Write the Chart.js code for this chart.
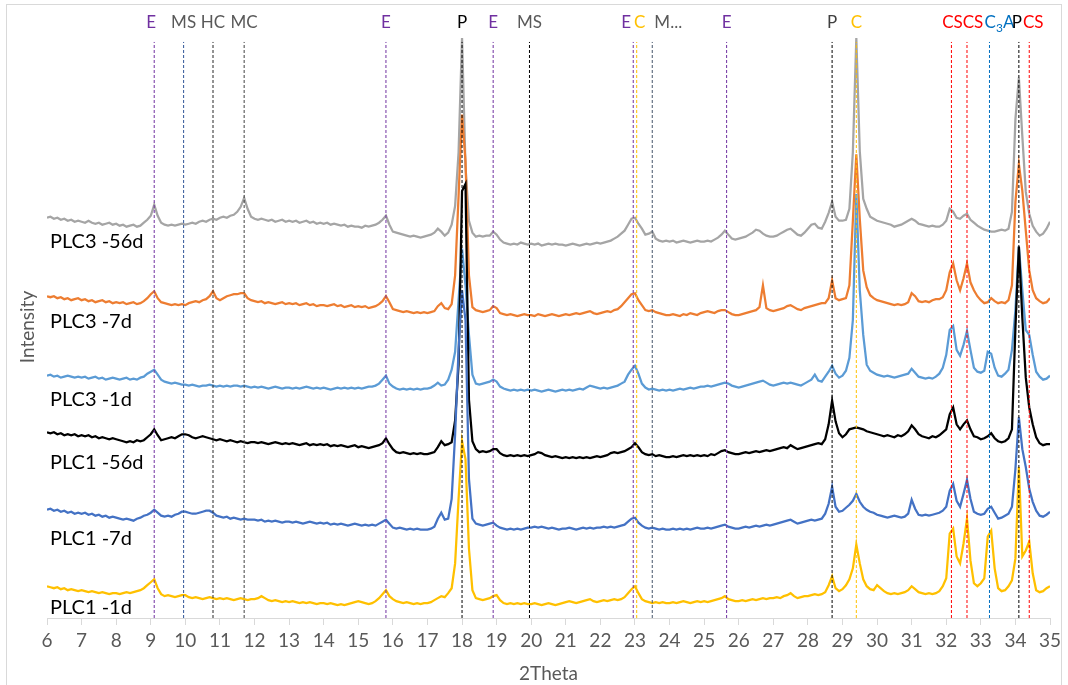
<!DOCTYPE html>
<html>
<head>
<meta charset="utf-8">
<title>XRD – PLC1 / PLC3</title>
<script src="https://cdn.jsdelivr.net/npm/chart.js@4.4.1/dist/chart.umd.min.js"></script>
<style>
  html, body { margin: 0; padding: 0; background: #fff; }
  #wrap { width: 1068px; height: 685px; }
</style>
</head>
<body>
<div id="wrap"><canvas id="xrd" width="1068" height="685"></canvas></div>
<script>
// 2Theta sampling grid (deg), one row per degree
const theta = [
  6.0,6.1,6.2,6.3,6.4,6.5,6.6,6.7,6.8,6.9,
  7.0,7.1,7.2,7.3,7.4,7.5,7.6,7.7,7.8,7.9,
  8.0,8.1,8.2,8.3,8.4,8.5,8.6,8.7,8.8,8.9,
  9.0,9.1,9.2,9.3,9.4,9.5,9.6,9.7,9.8,9.9,
  10.0,10.1,10.2,10.3,10.4,10.5,10.6,10.7,10.8,10.9,
  11.0,11.1,11.2,11.3,11.4,11.5,11.6,11.7,11.8,11.9,
  12.0,12.1,12.2,12.3,12.4,12.5,12.6,12.7,12.8,12.9,
  13.0,13.1,13.2,13.3,13.4,13.5,13.6,13.7,13.8,13.9,
  14.0,14.1,14.2,14.3,14.4,14.5,14.6,14.7,14.8,14.9,
  15.0,15.1,15.2,15.3,15.4,15.5,15.6,15.7,15.8,15.9,
  16.0,16.1,16.2,16.3,16.4,16.5,16.6,16.7,16.8,16.9,
  17.0,17.1,17.2,17.3,17.4,17.5,17.6,17.7,17.8,17.9,
  18.0,18.1,18.2,18.3,18.4,18.5,18.6,18.7,18.8,18.9,
  19.0,19.1,19.2,19.3,19.4,19.5,19.6,19.7,19.8,19.9,
  20.0,20.1,20.2,20.3,20.4,20.5,20.6,20.7,20.8,20.9,
  21.0,21.1,21.2,21.3,21.4,21.5,21.6,21.7,21.8,21.9,
  22.0,22.1,22.2,22.3,22.4,22.5,22.6,22.7,22.8,22.9,
  23.0,23.1,23.2,23.3,23.4,23.5,23.6,23.7,23.8,23.9,
  24.0,24.1,24.2,24.3,24.4,24.5,24.6,24.7,24.8,24.9,
  25.0,25.1,25.2,25.3,25.4,25.5,25.6,25.7,25.8,25.9,
  26.0,26.1,26.2,26.3,26.4,26.5,26.6,26.7,26.8,26.9,
  27.0,27.1,27.2,27.3,27.4,27.5,27.6,27.7,27.8,27.9,
  28.0,28.1,28.2,28.3,28.4,28.5,28.6,28.7,28.8,28.9,
  29.0,29.1,29.2,29.3,29.4,29.5,29.6,29.7,29.8,29.9,
  30.0,30.1,30.2,30.3,30.4,30.5,30.6,30.7,30.8,30.9,
  31.0,31.1,31.2,31.3,31.4,31.5,31.6,31.7,31.8,31.9,
  32.0,32.1,32.2,32.3,32.4,32.5,32.6,32.7,32.8,32.9,
  33.0,33.1,33.2,33.3,33.4,33.5,33.6,33.7,33.8,33.9,
  34.0,34.1,34.2,34.3,34.4,34.5,34.6,34.7,34.8,34.9,
  35.0
];

// Intensities (arbitrary, already offset/stacked as in the figure)
const plc3_56d = [
  403,404,402,403,401,402,400,401,399,400,
  399,398,400,398,397,398,396,397,398,396,
  397,395,396,394,395,396,394,395,398,401,
  405,416,405,398,396,395,396,395,396,397,
  396,397,398,397,399,400,399,401,402,401,
  403,404,403,405,406,409,414,423,412,404,
  402,401,402,401,400,401,399,400,401,399,
  400,399,400,398,399,400,398,399,397,398,
  397,398,396,397,396,395,396,394,395,394,
  394,393,395,394,395,396,398,401,405,396,
  389,388,387,386,385,384,385,384,383,384,
  385,386,388,392,389,385,388,396,415,469,
  584,455,400,388,384,385,384,385,385,389,
  386,381,378,377,376,377,376,378,377,376,
  377,376,377,375,376,377,376,377,376,376,
  375,376,377,376,375,376,377,376,377,378,
  377,378,379,380,382,384,387,390,396,402,
  403,397,392,386,387,389,382,380,379,380,
  379,380,378,379,380,379,378,379,380,379,
  379,380,379,381,383,386,390,386,382,381,
  382,383,384,386,388,391,390,387,385,384,
  384,385,387,389,391,392,389,386,385,388,
  392,396,397,393,392,399,408,419,404,400,
  400,401,412,469,584,470,422,412,404,402,
  400,399,398,397,396,394,395,396,398,400,
  402,400,397,396,395,394,395,394,394,396,
  400,412,409,403,402,405,407,401,398,395,
  393,391,390,389,389,390,391,390,392,409,
  502,544,485,429,407,395,389,385,387,392,
  399
];

const plc3_7d = [
  324,323,324,322,323,321,322,320,321,322,
  320,321,319,320,318,319,320,318,319,317,
  318,317,318,316,317,318,316,317,319,322,
  326,329,322,318,317,316,315,316,315,316,
  315,317,318,319,318,320,321,324,329,322,
  320,322,324,325,326,326,327,327,322,320,
  319,318,319,317,318,317,316,317,318,316,
  317,316,317,315,316,317,315,316,314,315,
  315,314,315,316,314,315,313,314,315,313,
  314,313,314,312,313,314,316,319,324,318,
  311,310,309,308,309,308,307,308,307,308,
  307,308,309,314,317,312,311,316,345,425,
  507,460,345,313,310,309,308,309,310,314,
  312,307,306,305,306,305,304,305,306,305,
  305,304,306,305,304,305,306,305,304,305,
  306,305,306,307,306,307,308,309,307,306,
  307,308,309,308,310,311,314,318,322,326,
  327,320,315,310,309,310,308,307,306,305,
  305,306,305,304,306,305,307,306,305,307,
  308,309,308,307,309,310,310,308,306,305,
  305,306,307,308,309,310,313,335,312,310,
  309,310,311,312,314,315,313,311,310,312,
  313,314,315,316,317,317,322,340,322,320,
  321,322,335,400,467,402,350,333,325,322,
  320,319,318,317,316,315,316,315,316,318,
  327,324,319,318,319,318,320,321,321,323,
  330,348,357,340,330,342,357,338,330,324,
  320,317,318,322,319,317,318,317,320,335,
  419,457,430,390,350,330,322,319,317,318,
  322
];

const plc3_1d = [
  244,245,243,244,242,243,244,243,242,243,
  242,243,241,242,243,241,242,240,241,242,
  241,240,241,242,240,241,240,242,243,246,
  248,250,245,240,238,237,236,237,236,235,
  235,234,235,234,233,234,234,235,234,233,
  234,233,234,233,234,234,233,234,233,232,
  233,232,233,232,231,232,233,232,231,232,
  232,231,232,231,232,233,232,231,232,231,
  232,231,230,231,232,231,232,231,232,231,
  232,231,232,233,233,234,236,240,244,236,
  233,231,230,231,230,231,230,231,230,231,
  231,232,234,237,234,235,240,250,268,320,
  372,335,285,245,236,235,236,237,238,240,
  238,233,231,230,229,230,229,230,229,230,
  229,230,229,228,229,230,229,228,229,230,
  229,230,229,230,231,230,232,234,233,232,
  231,232,231,232,233,234,236,238,245,250,
  254,246,236,232,230,231,230,229,230,229,
  230,229,230,231,230,231,232,231,232,233,
  233,234,233,234,235,236,237,236,234,233,
  232,233,234,235,236,237,238,239,237,235,
  234,235,236,237,236,237,236,235,234,236,
  238,240,245,239,238,243,248,254,246,242,
  244,249,262,300,427,330,285,255,249,247,
  245,244,243,244,243,242,243,244,245,246,
  251,247,243,242,241,242,241,243,246,252,
  265,290,294,270,264,275,289,270,252,248,
  247,249,268,266,252,244,243,246,250,270,
  310,374,330,290,285,265,248,243,240,241,
  244
];

const plc1_56d = [
  187,186,187,185,186,184,185,184,185,183,
  184,183,184,182,183,181,182,181,180,181,
  180,179,178,177,178,177,179,178,179,182,
  185,190,184,179,180,181,182,181,183,185,
  185,184,182,181,182,183,182,181,180,179,
  180,179,178,179,178,177,178,177,176,177,
  177,176,177,176,175,176,177,176,175,176,
  175,176,175,174,175,176,174,175,174,175,
  174,175,173,174,173,174,173,172,173,174,
  172,173,172,171,172,173,174,176,181,175,
  170,167,166,167,166,165,166,165,166,165,
  165,166,167,172,178,174,175,177,199,255,
  430,437,220,178,170,167,168,167,168,170,
  170,166,164,163,164,163,164,163,164,163,
  164,165,167,166,164,163,162,163,162,161,
  162,161,162,161,162,161,162,161,162,163,
  162,163,164,166,167,166,167,168,170,172,
  176,172,167,165,164,165,163,164,163,162,
  162,163,162,163,164,163,164,163,164,163,
  164,163,165,164,166,168,169,167,166,165,
  165,166,167,166,167,168,167,168,169,168,
  169,170,171,172,171,174,172,170,171,172,
  173,174,175,176,175,180,195,219,198,186,
  182,185,190,191,192,191,190,188,187,186,
  185,184,183,184,183,182,184,183,185,188,
  194,190,185,183,182,181,183,182,184,187,
  190,205,212,195,190,195,199,190,183,182,
  180,181,183,186,181,178,177,178,181,190,
  292,374,302,242,212,195,182,176,174,175,
  175
];

const plc1_7d = [
  109,110,108,109,107,108,106,107,105,106,
  105,106,104,105,103,104,102,103,101,102,
  101,100,99,100,99,98,100,101,103,104,
  106,109,106,103,102,103,102,104,105,107,
  107,106,105,105,106,107,108,108,106,103,
  102,101,102,100,101,100,99,100,99,99,
  99,98,99,97,98,97,98,97,96,97,
  97,96,97,96,95,96,97,96,95,96,
  95,96,94,95,94,95,94,93,94,95,
  94,93,94,93,94,93,95,97,99,95,
  91,90,91,90,89,90,89,90,89,89,
  89,90,92,100,106,99,100,120,185,270,
  330,300,140,100,95,94,93,94,95,96,
  93,91,90,89,90,89,90,89,90,91,
  91,92,91,92,91,90,91,90,89,90,
  90,91,90,89,90,91,90,91,90,91,
  91,92,91,92,91,92,93,94,97,100,
  101,96,93,91,90,91,90,89,90,89,
  89,90,89,90,89,90,89,90,91,90,
  90,91,90,91,92,93,94,92,91,90,
  90,91,92,91,92,93,92,93,94,93,
  94,95,96,97,98,99,97,95,96,97,
  98,99,98,99,100,105,115,132,112,107,
  108,111,114,118,125,117,112,109,107,106,
  104,103,102,101,102,103,102,101,102,105,
  119,110,104,103,104,103,104,105,106,108,
  112,128,135,118,112,125,139,120,107,105,
  104,105,110,112,106,100,101,103,105,112,
  150,202,170,152,130,117,108,103,102,104,
  107
];

const plc1_1d = [
  32,31,30,31,29,30,28,29,28,27,
  28,27,26,27,26,25,26,25,24,25,
  25,24,25,26,25,26,27,28,30,33,
  36,39,30,24,22,23,22,21,22,23,
  23,21,20,21,20,19,20,21,20,19,
  20,19,20,19,18,19,20,19,18,19,
  19,20,22,20,18,17,18,17,16,17,
  16,17,16,15,16,15,16,15,14,15,
  15,14,15,14,13,14,13,14,15,16,
  17,16,15,14,15,17,20,24,28,22,
  19,17,16,15,16,15,14,15,14,15,
  15,16,18,20,22,21,25,30,55,120,
  178,160,70,28,20,19,18,19,20,22,
  23,18,15,14,15,14,15,14,15,14,
  14,15,14,13,14,15,14,13,14,15,
  16,17,16,15,16,17,18,19,17,16,
  17,18,17,18,19,18,19,21,25,29,
  32,25,19,17,16,15,16,15,16,15,
  15,16,15,16,17,16,15,16,17,16,
  17,16,17,18,19,20,22,19,18,17,
  17,18,17,18,19,18,19,20,19,20,
  20,21,20,22,23,25,22,20,21,22,
  22,23,24,23,24,26,33,42,30,27,
  29,33,39,50,74,55,39,32,29,28,
  33,30,27,25,24,25,24,25,26,28,
  32,29,26,25,24,25,24,25,27,32,
  40,85,90,62,55,75,100,58,35,32,
  35,40,82,88,50,30,27,28,32,38,
  60,152,62,68,77,45,28,26,27,30,
  32
];

const seriesNames = ['PLC3 -56d', 'PLC3 -7d', 'PLC3 -1d', 'PLC1 -56d', 'PLC1 -7d', 'PLC1 -1d'];
const seriesValues = [plc3_56d, plc3_7d, plc3_1d, plc1_56d, plc1_7d, plc1_1d];

// phase reference lines
const refPos   = [9.1, 9.95, 10.8, 11.7, 15.8, 18.0, 18.9, 19.95, 22.95, 23.05, 23.5, 25.65, 28.7, 29.4, 32.15, 32.6, 33.25, 34.1, 34.4];
const refLabel = ['E', 'MS', 'HC', 'MC', 'E', 'P', 'E', 'MS', 'E', 'C', 'M...', 'E', 'P', 'C', 'CS', 'CS', 'C₃A', 'P', 'CS'];

const xTicks = { min: 6, max: 35, step: 1 };

// ---- styles ----
const FONT = "Lato, 'Open Sans', 'Liberation Sans', sans-serif";
const SERIES_COLORS = ['#A5A5A5', '#ED7D31', '#5B9BD5', '#000000', '#4472C4', '#FFC000'];
// Excel draws the later series on top; Chart.js draws lower order on top
const SERIES_ORDER = [6, 5, 4, 3, 2, 1];
const PHASE_TEXT = {
  'E': '#7030A0', 'MS': '#595959', 'HC': '#595959', 'MC': '#595959', 'M...': '#595959',
  'P': '#000000', 'C': '#FFC000', 'CS': '#FF0000', 'C₃A': '#0070C0'
};
const REF_LINE_COLORS = ['#7030A0', '#2F5597', '#262626', '#404040', '#7030A0', '#000000', '#7030A0',
  '#000000', '#7030A0', '#FFC000', '#44546A', '#7030A0', '#000000', '#FFC000',
  '#FF0000', '#FF0000', '#0070C0', '#000000', '#FF0000'];
const REF_TEXT_OVERRIDE = { 12: '#404040' };
const REF_LABEL_NUDGE = { 0: -3, 8: -7, 9: 3, 10: 16, 14: 1, 15: 6, 16: 10, 17: -2, 18: 4 };
const REF_TOP = 580;
const Y_MAX = 586;
const SERIES_TAG_Y = [242, 322, 400, 463, 539, 608];
const AXIS_FONT = { family: FONT, size: 19 };

const datasets = [];

refPos.forEach((pos, i) => {
  datasets.push({
    label: refLabel[i],
    data: [{ x: pos, y: 0 }, { x: pos, y: REF_TOP }],
    borderColor: REF_LINE_COLORS[i],
    borderWidth: 1,
    borderDash: [3, 2],
    pointRadius: 0,
    order: 0,
  });
});

seriesValues.forEach((vals, s) => {
  datasets.push({
    label: seriesNames[s],
    data: theta.map((t, i) => ({ x: t, y: vals[i] })),
    borderColor: SERIES_COLORS[s],
    borderWidth: 2.25,
    pointRadius: 0,
    tension: 0,
    order: SERIES_ORDER[s],
  });
});

function drawPhaseText(ctx, text, cx, cy, color) {
  ctx.fillStyle = color;
  ctx.textBaseline = 'middle';
  const big = '17px ' + FONT;
  const small = '12px ' + FONT;
  if (text.indexOf('₃') >= 0) {
    const parts = text.split('₃');
    ctx.font = big;
    const w1 = ctx.measureText(parts[0]).width;
    const w3 = ctx.measureText(parts[1]).width;
    ctx.font = small;
    const w2 = ctx.measureText('3').width;
    let x = cx - (w1 + w2 + w3) / 2;
    ctx.textAlign = 'left';
    ctx.font = big;
    ctx.fillText(parts[0], x, cy);
    x += w1;
    ctx.font = small;
    ctx.fillText('3', x, cy + 5);
    x += w2;
    ctx.font = big;
    ctx.fillText(parts[1], x, cy);
    return;
  }
  ctx.font = big;
  ctx.textAlign = 'center';
  ctx.fillText(text, cx, cy);
}

const decor = {
  id: 'decor',
  beforeDraw(chart) {
    const ctx = chart.ctx;
    ctx.save();
    ctx.fillStyle = '#ffffff';
    ctx.fillRect(0, 0, chart.width, chart.height);
    ctx.strokeStyle = '#D9D9D9';
    ctx.lineWidth = 1;
    ctx.strokeRect(6.5, 4.5, chart.width - 13, chart.height + 10);
    ctx.restore();
  },
  afterDatasetsDraw(chart) {
    const ctx = chart.ctx;
    const xs = chart.scales.x;
    ctx.save();
    refPos.forEach((pos, i) => {
      const px = xs.getPixelForValue(pos) + (REF_LABEL_NUDGE[i] || 0);
      const col = REF_TEXT_OVERRIDE[i] || PHASE_TEXT[refLabel[i]];
      drawPhaseText(ctx, refLabel[i], px, 23, col);
    });
    ctx.font = '20px ' + FONT;
    ctx.fillStyle = '#000000';
    ctx.textAlign = 'left';
    ctx.textBaseline = 'middle';
    seriesNames.forEach((name, s) => {
      ctx.fillText(name, chart.chartArea.left + 3, SERIES_TAG_Y[s]);
    });
    ctx.restore();
  }
};

new Chart(document.getElementById('xrd'), {
  type: 'line',
  data: { datasets },
  plugins: [decor],
  options: {
    responsive: false,
    devicePixelRatio: 1,
    animation: false,
    layout: { padding: { left: 16.2, right: 18, top: 36, bottom: 0 } },
    plugins: {
      legend: { display: false },
      tooltip: { enabled: false },
    },
    scales: {
      x: {
        type: 'linear',
        min: xTicks.min,
        max: xTicks.max,
        ticks: {
          stepSize: xTicks.step,
          autoSkip: false,
          maxRotation: 0,
          color: '#595959',
          padding: 4,
          font: AXIS_FONT,
        },
        grid: {
          display: true,
          drawOnChartArea: false,
          drawTicks: true,
          tickLength: 7,
          color: '#D9D9D9',
          tickColor: '#D9D9D9',
        },
        border: { display: true, color: '#D9D9D9' },
        title: {
          display: true,
          text: '2Theta',
          color: '#595959',
          font: AXIS_FONT,
          padding: { top: 6.4, bottom: 0 },
        },
      },
      y: {
        min: 0,
        max: Y_MAX,
        ticks: { display: false },
        grid: { display: false, drawTicks: false },
        border: { display: false },
        title: {
          display: true,
          text: 'Intensity',
          color: '#595959',
          font: AXIS_FONT,
          padding: { top: 0, bottom: 8 },
        },
      },
    },
  },
});
</script>
</body>
</html>
